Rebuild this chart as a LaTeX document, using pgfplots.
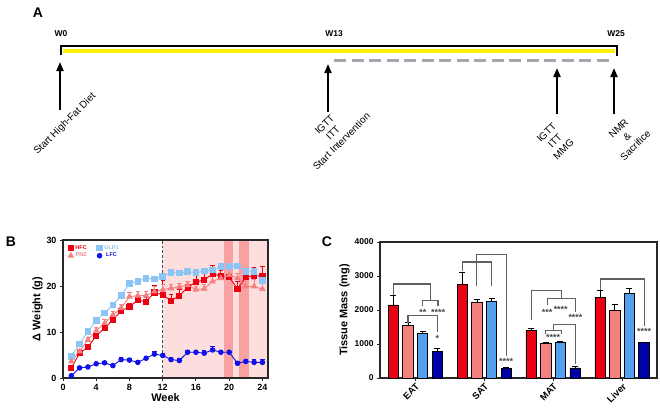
\documentclass[border=0pt]{standalone}
\usepackage{fontspec}
\setmainfont{Liberation Sans}
\usepackage{pgfplots}
\pgfplotsset{compat=1.18}
\usetikzlibrary{arrows.meta}

\definecolor{hfc}{RGB}{236,0,20}
\definecolor{pnz}{RGB}{244,128,128}
\definecolor{glpB}{RGB}{140,196,244}
\definecolor{lfcB}{RGB}{16,16,232}
\definecolor{glpC}{RGB}{84,160,240}
\definecolor{lfcC}{RGB}{0,0,168}
\definecolor{shade}{RGB}{253,222,222}
\definecolor{band}{RGB}{249,160,160}
\definecolor{brk}{RGB}{96,96,96}
\definecolor{startxt}{RGB}{70,70,70}
\definecolor{dashc}{RGB}{166,166,174}
\definecolor{axc}{RGB}{40,40,40}

\begin{document}
\begin{tikzpicture}
% ---------- overlay axis: panel A and panel letters (pixel coordinates) ----------
\begin{axis}[at={(0,0)}, anchor=south west, scale only axis, width=660bp, height=409bp,
  xmin=0, xmax=660, ymin=0, ymax=409, y dir=reverse, hide axis, clip=false]
\addplot[draw=none, forget plot] coordinates {(0,0) (660,409)};
\addplot[black, line width=1.5bp, forget plot] coordinates {(61,55) (61,46) (617,46) (617,56)};
\addplot[yellow, line width=4bp, forget plot] coordinates {(63,51.3) (615,51.3)};
\addplot[dashc, line width=3bp, dash pattern=on 12bp off 5.5bp, forget plot] coordinates {(334,60) (612,60)};
\addplot[black, line width=2bp, -{Triangle[width=7bp,length=9bp]}, forget plot] coordinates {(60,110) (60,62)};
\addplot[black, line width=2bp, -{Triangle[width=7bp,length=9bp]}, forget plot] coordinates {(328,112) (328,64)};
\addplot[black, line width=2bp, -{Triangle[width=7bp,length=9bp]}, forget plot] coordinates {(557,114) (557,68)};
\addplot[black, line width=2bp, -{Triangle[width=7bp,length=9bp]}, forget plot] coordinates {(614,114) (614,68)};
\node[font=\fontsize{14}{16}\selectfont\bfseries] at (axis cs:38,13) {A};
\node[font=\fontsize{14}{16}\selectfont\bfseries] at (axis cs:11,242) {B};
\node[font=\fontsize{14}{16}\selectfont\bfseries] at (axis cs:327,242) {C};
\node[font=\fontsize{8.5}{10}\selectfont\bfseries] at (axis cs:61,34) {W0};
\node[font=\fontsize{8.5}{10}\selectfont\bfseries] at (axis cs:334,34) {W13};
\node[font=\fontsize{8.5}{10}\selectfont\bfseries] at (axis cs:616,34) {W25};
\node[font=\fontsize{10}{12}\selectfont, rotate=45, align=center, inner sep=0pt] at (axis cs:65,124) {Start High-Fat Diet};
\node[font=\fontsize{10}{12}\selectfont, rotate=45, align=center, inner sep=0pt] at (axis cs:333,133) {IGTT\\ITT\\Start Intervention};
\node[font=\fontsize{10}{12}\selectfont, rotate=45, align=center, inner sep=0pt] at (axis cs:555,141) {IGTT\\ITT\\MMG};
\node[font=\fontsize{10}{12}\selectfont, rotate=45, align=center, inner sep=0pt] at (axis cs:627,137) {NMR\\\&\\Sacrifice};
\end{axis}

% ---------- panel B ----------
\begin{axis}[at={(63bp,31bp)}, anchor=south west, scale only axis, width=205bp, height=138bp,
  xmin=0, xmax=24.67, ymin=0, ymax=30,
  xtick={0,4,...,24}, ytick={0,10,20,30},
  tick pos=left, tick align=outside, major tick length=3bp,
  axis line style={axc, line width=1.3bp}, tick style={axc, line width=1bp},
  axis on top,
  tick label style={font=\fontsize{9}{10}\selectfont\bfseries},
  /pgf/number format/assume math mode=true,
  xlabel={Week}, ylabel={Δ Weight (g)},
  label style={font=\fontsize{11}{12}\selectfont\bfseries},
  xlabel style={yshift=4bp}, ylabel style={yshift=-3bp},
  legend columns=2,
  legend style={at={(0.02,0.985)}, anchor=north west, draw=none, fill=none,
    font=\fontsize{5.5}{6}\selectfont\bfseries, /tikz/every even column/.append style={column sep=8bp},
    row sep=-1.5bp, inner sep=1bp},
  legend image code/.code={\draw[#1] plot coordinates {(0.08cm,0cm)};},
]
\addplot[draw=none, fill=shade, forget plot] coordinates {(12,30) (24.67,30)} \closedcycle;
\addplot[draw=none, fill=band, forget plot] coordinates {(19.4,30) (20.4,30)} \closedcycle;
\addplot[draw=none, fill=band, forget plot] coordinates {(21.2,30) (22.4,30)} \closedcycle;
\addplot[gray!60!black, densely dashed, line width=0.7bp, forget plot] coordinates {(12,0) (12,30)};

\addplot[hfc, line width=0.9bp, mark=square*, mark size=2.6bp,
  error bars/.cd, y dir=plus, y explicit, error bar style={line width=0.8bp},
  error mark options={rotate=90, mark size=2.2bp, line width=0.8bp}]
  table[x=w, y=v, y error=e] {
w v e
1 2.2 0.4
2 5.4 0.5
3 6.7 0.5
4 9.2 0.6
5 10.8 0.7
6 12.7 0.7
7 14.6 0.7
8 15.5 0.7
9 16.9 0.8
10 16.6 0.9
11 18.6 1.6
12 18.1 3.2
13 16.8 1.4
14 17.9 1.3
15 19.7 1.2
16 20.8 1.4
17 21.4 1.5
18 22.6 1.9
19 22.2 1.2
20 21.9 1.8
21 19.4 1.5
22 21.9 1.7
23 22.3 1.8
24 22.2 2.0
};
\addlegendentry{\textcolor{hfc}{HFC}}

\addplot[glpB, line width=0.9bp, mark=square*, mark size=2.8bp,
  error bars/.cd, y dir=plus, y explicit, error bar style={line width=0.8bp},
  error mark options={rotate=90, mark size=2.2bp, line width=0.8bp}]
  table[x=w, y=v, y error=e] {
w v e
1 4.7 0.4
2 7.4 0.4
3 10.1 0.5
4 12.5 0.5
5 14.1 0.5
6 15.9 0.6
7 17.9 0.6
8 20.6 0.6
9 21.0 0.6
10 21.7 0.6
11 21.5 0.6
12 22.1 0.6
13 22.9 0.5
14 22.8 0.5
15 23.1 0.5
16 22.9 0.5
17 23.3 0.6
18 23.5 0.6
19 24.2 0.6
20 24.2 0.6
21 24.4 0.6
22 23.1 0.8
23 23.1 0.8
24 21.2 0.8
};
\addlegendentry{\textcolor{glpB}{GLP1}}

\addplot[pnz, line width=0.9bp, mark=triangle*, mark size=3bp,
  error bars/.cd, y dir=plus, y explicit, error bar style={line width=0.8bp},
  error mark options={rotate=90, mark size=2.2bp, line width=0.8bp}]
  table[x=w, y=v, y error=e] {
w v e
1 3.6 0.4
2 5.8 0.5
3 8.3 0.6
4 10.3 0.7
5 11.9 0.8
6 13.7 0.8
7 15.2 0.8
8 17.7 1.0
9 17.9 1.0
10 17.9 1.0
11 18.8 1.1
12 19.2 1.2
13 19.5 0.8
14 19.8 0.8
15 20.2 0.9
16 19.2 0.8
17 19.4 0.9
18 21.0 1.0
19 21.7 1.0
20 22.4 1.2
21 21.7 1.0
22 19.9 1.5
23 19.9 1.6
24 19.3 1.2
};
\addlegendentry{\textcolor{pnz}{PNZ}}

\addplot[lfcB, line width=0.9bp, mark=*, mark size=2.3bp,
  error bars/.cd, y dir=plus, y explicit, error bar style={line width=0.8bp},
  error mark options={rotate=90, mark size=2.2bp, line width=0.8bp}]
  table[x=w, y=v, y error=e] {
w v e
1 0.5 0.3
2 2.2 0.3
3 2.4 0.3
4 3.1 0.3
5 3.3 0.3
6 2.7 0.3
7 4.0 0.4
8 3.9 0.4
9 3.4 0.4
10 4.3 0.5
11 5.2 0.6
12 4.9 0.5
13 4.0 0.5
14 3.8 0.4
15 5.6 0.5
16 5.6 0.5
17 5.4 0.5
18 6.1 0.8
19 5.6 0.5
20 5.6 0.5
21 3.2 0.4
22 3.6 0.4
23 3.4 0.6
24 3.4 0.6
};
\addlegendentry{\textcolor{lfcB}{LFC}}
\end{axis}

% ---------- panel C ----------
\begin{axis}[at={(380bp,31bp)}, anchor=south west, scale only axis, width=277bp, height=136bp,
  xmin=-0.512, xmax=3.507, ymin=0, ymax=4000,
  xtick={0,1,2,3}, xticklabels={EAT,SAT,MAT,Liver},
  ytick={0,1000,2000,3000,4000},
  scaled y ticks=false, /pgf/number format/1000 sep={},
  tick pos=left, tick align=outside, major tick length=3bp,
  axis line style={axc, line width=1.3bp}, tick style={axc, line width=1bp},
  tick label style={font=\fontsize{8.5}{10}\selectfont\bfseries},
  x tick label style={rotate=45, anchor=north east, inner sep=1bp, font=\fontsize{9.5}{10}\selectfont\bfseries},
  /pgf/number format/assume math mode=true,
  ylabel={Tissue Mass (mg)},
  label style={font=\fontsize{11}{12}\selectfont\bfseries},
  ylabel style={yshift=-2bp},
  clip=false,
  cbar/.style={ybar, bar width=0.15, bar shift=0, draw=black, line width=0.8bp,
    error bars/.cd, y dir=plus, y explicit, error bar style={black, line width=0.8bp},
    error mark options={black, rotate=90, mark size=3bp, line width=0.8bp}},
]
\addplot[fill=hfc, cbar]
  coordinates {(-0.319,2150) +- (0,280) (0.681,2760) +- (0,350) (1.681,1390) +- (0,80) (2.681,2370) +- (0,210)};
\addplot[fill=pnz, cbar]
  coordinates {(-0.106,1540) +- (0,100) (0.894,2220) +- (0,80) (1.894,1030) +- (0,30) (2.894,1980) +- (0,195)};
\addplot[fill=glpC, cbar]
  coordinates {(0.106,1300) +- (0,70) (1.106,2250) +- (0,80) (2.106,1050) +- (0,30) (3.106,2500) +- (0,150)};
\addplot[fill=lfcC, cbar]
  coordinates {(0.319,780) +- (0,100) (1.319,275) +- (0,35) (2.319,295) +- (0,45) (3.319,1040) +- (0,20)};

% significance brackets
\addplot[brk, line width=1.1bp, forget plot] coordinates {(-0.319,2431) (-0.319,2765) (0.222,2765) (0.222,2275)};
\addplot[brk, line width=1.1bp, forget plot] coordinates {(0.11,2108) (0.11,2275) (0.33,2275) (0.33,2108)};
\addplot[brk, line width=1.1bp, forget plot] coordinates {(-0.106,1618) (-0.106,1843) (0.319,1843) (0.319,1353)};
\addplot[brk, line width=1.1bp, forget plot] coordinates {(0.681,3137) (0.681,3412) (1.106,3412) (1.106,2716)};
\addplot[brk, line width=1.1bp, forget plot] coordinates {(0.894,2716) (0.894,3627) (1.319,3627) (1.319,637)};
\addplot[brk, line width=1.1bp, forget plot] coordinates {(1.681,1716) (1.681,2569) (2.121,2569) (2.121,2333)};
\addplot[brk, line width=1.1bp, forget plot] coordinates {(1.913,2157) (1.913,2333) (2.324,2333) (2.324,1941)};
\addplot[brk, line width=1.1bp, forget plot] coordinates {(2.01,1392) (2.01,1569) (2.324,1569) (2.324,412)};
\addplot[brk, line width=1.1bp, forget plot] coordinates {(1.894,1294) (1.894,1392) (2.121,1392) (2.121,1294)};
\addplot[brk, line width=1.1bp, forget plot] coordinates {(2.681,2578) (2.681,2912) (3.319,2912) (3.319,1539)};

\begin{scope}[every node/.style={font=\fontsize{9}{9}\selectfont\bfseries, text=startxt, inner sep=0pt}]
\node at (axis cs:0.11,1940) {**};
\node at (axis cs:0.33,1940) {****};
\node at (axis cs:0.319,1160) {*};
\node at (axis cs:1.319,500) {****};
\node at (axis cs:1.913,1940) {***};
\node at (axis cs:2.11,2020) {****};
\node at (axis cs:2.324,1775) {****};
\node at (axis cs:2.0,1185) {****};
\node at (axis cs:3.319,1380) {****};
\end{scope}
\end{axis}
\end{tikzpicture}
\end{document}
